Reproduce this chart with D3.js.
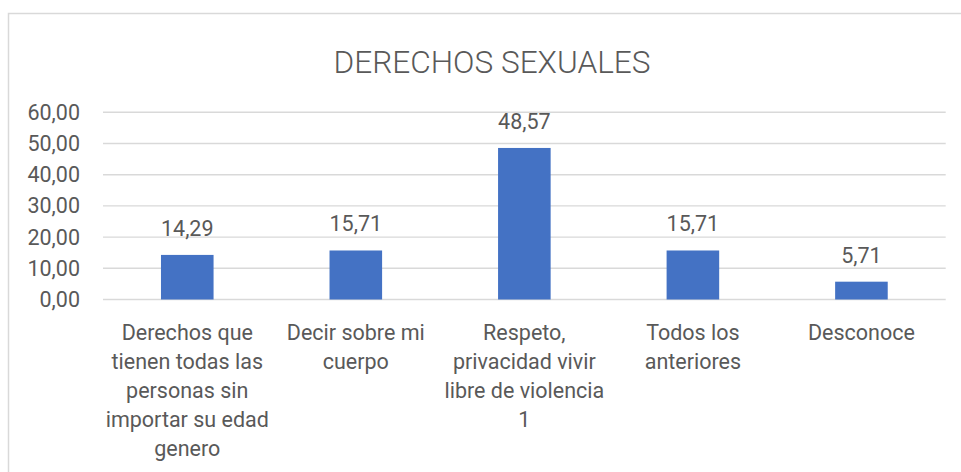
<!DOCTYPE html>
<html lang="es">
<head>
  <meta charset="UTF-8" />
  <script src="https://d3js.org/d3.v7.min.js"></script>
  <title>Derechos sexuales</title>
  <style>
    html, body { margin: 0; padding: 0; background: #fff; }
    svg { display: block; font-family: Roboto, "Open Sans", sans-serif; }
  </style>
</head>
<body>
<svg id="chart" width="961" height="472"></svg>
<script>
// data
var categories = [
  "Derechos que|tienen todas las|personas sin|importar su edad|genero",
  "Decir sobre mi|cuerpo",
  "Respeto,|privacidad vivir|libre de violencia|1",
  "Todos los|anteriores",
  "Desconoce"
];
var values = [14.29, 15.71, 48.57, 15.71, 5.71];
var yTicks = [0, 10, 20, 30, 40, 50, 60];
var title = "DERECHOS SEXUALES";

var textCol = "#595959", gridCol = "#d9d9d9", barCol = "#4472C4";
var fmt = function(v) { return d3.format(".2f")(v).replace(".", ","); };

var svg = d3.select("#chart");

// chart area border
svg.append("rect")
  .attr("x", 8.5).attr("y", 13.5)
  .attr("width", 1000).attr("height", 600)
  .attr("fill", "#fff")
  .attr("stroke", gridCol).attr("stroke-width", 1.5);

var x = d3.scaleBand()
  .domain(d3.range(categories.length))
  .range([103, 945.7])
  .paddingInner(0.688)
  .paddingOuter(0.344);

var y = d3.scaleLinear()
  .domain([0, 60])
  .range([299.5, 112.3]);

// title
svg.append("text")
  .attr("x", 492).attr("y", 73)
  .attr("text-anchor", "middle")
  .attr("fill", textCol)
  .style("font-size", "31.6px")
  .style("font-weight", 300)
  .text(title);

// gridlines
svg.append("g").selectAll("line")
  .data(yTicks)
  .join("line")
    .attr("x1", 103).attr("x2", 945.7)
    .attr("y1", d => y(d)).attr("y2", d => y(d))
    .attr("stroke", gridCol).attr("stroke-width", 1.4);

// y tick labels
svg.append("g").selectAll("text")
  .data(yTicks)
  .join("text")
    .attr("x", 80).attr("y", d => y(d))
    .attr("dy", "0.35em")
    .attr("text-anchor", "end")
    .attr("fill", textCol)
    .style("font-size", "21.5px")
    .text(d => fmt(d));

// bars
svg.append("g").selectAll("rect")
  .data(values)
  .join("rect")
    .attr("x", (d, i) => x(i))
    .attr("width", x.bandwidth())
    .attr("y", d => y(d))
    .attr("height", d => y(0) - y(d))
    .attr("fill", barCol);

// value labels
svg.append("g").selectAll("text")
  .data(values)
  .join("text")
    .attr("x", (d, i) => x(i) + x.bandwidth() / 2)
    .attr("y", d => y(d) - 19)
    .attr("text-anchor", "middle")
    .attr("fill", textCol)
    .style("font-size", "21.5px")
    .text(d => fmt(d));

// category labels, wrapped like the original
var cat = svg.append("g").selectAll("text")
  .data(categories)
  .join("text")
    .attr("x", (d, i) => x(i) + x.bandwidth() / 2)
    .attr("y", 339.5)
    .attr("text-anchor", "middle")
    .attr("fill", textCol)
    .style("font-size", "21.5px");

cat.each(function(d, i) {
  var t = d3.select(this);
  var cx = x(i) + x.bandwidth() / 2;
  d.split("|").forEach(function(line, k) {
    t.append("tspan")
      .attr("x", cx)
      .attr("y", 339.5 + k * 29)
      .text(line);
  });
});
</script>
</body>
</html>
